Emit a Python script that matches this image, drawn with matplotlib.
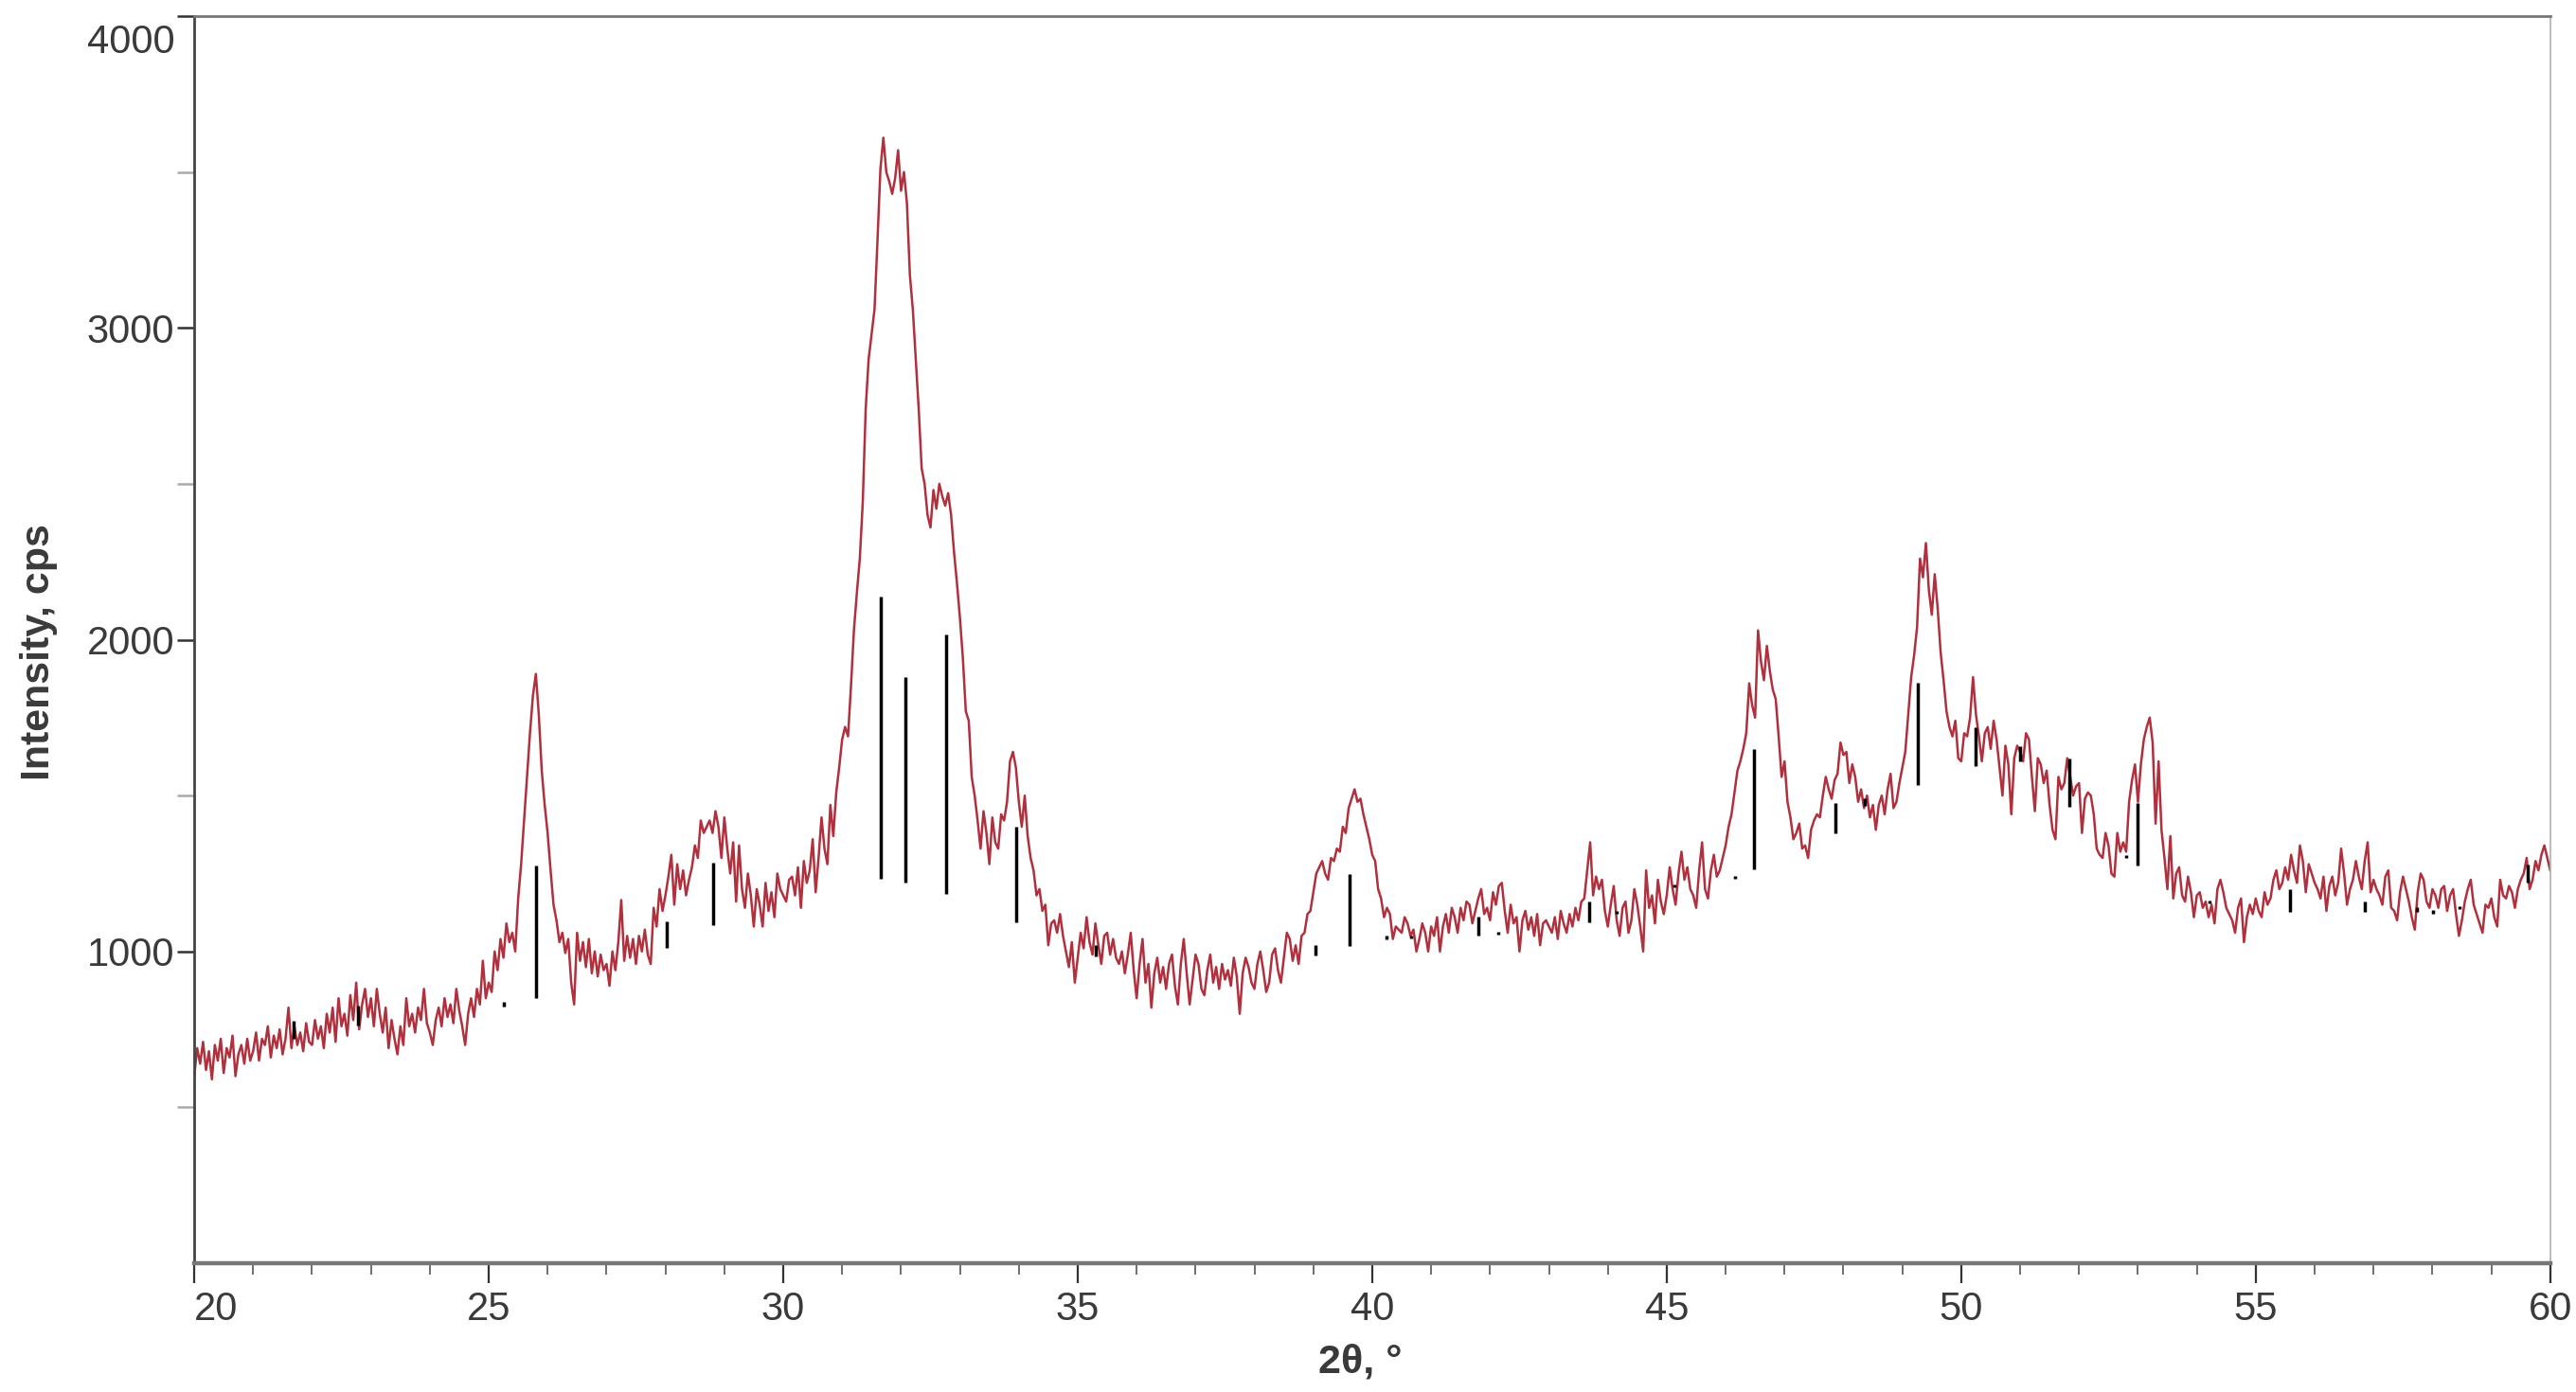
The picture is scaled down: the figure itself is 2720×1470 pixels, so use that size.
import numpy as np
import matplotlib
matplotlib.use("Agg")
import matplotlib.pyplot as plt
from matplotlib.ticker import MultipleLocator, FixedLocator
from matplotlib.transforms import ScaledTranslation

# ---------------- data (2theta step 0.05 deg, 20.00 ... 60.00) ----------------
theta_start = 20.0
theta_step = 0.05

seg_20_25 = [
    600, 690, 640, 710, 620, 680, 590, 700, 650, 720, 610, 690, 660, 730, 600, 670, 700, 640, 720, 650,
    680, 740, 650, 720, 700, 760, 660, 730, 690, 750, 670, 720, 820, 690, 760, 700, 740, 680, 770, 710,
    700, 780, 720, 760, 690, 800, 740, 820, 710, 850, 760, 800, 730, 860, 780, 900, 750, 830, 880, 790,
    850, 760, 880, 800, 740, 820, 690, 780, 720, 670, 760, 700, 850, 760, 800, 740, 820, 780, 880, 770,
    740, 700, 780, 820, 760, 850, 790, 830, 770, 880, 810, 760, 700, 800, 850, 790, 880, 830, 970, 850,
]
seg_25_30 = [
    900, 870, 1000, 940, 1040, 980, 1090, 1030, 1060, 1000, 1170, 1280, 1420, 1560, 1700, 1820, 1890, 1760, 1580, 1470,
    1380, 1260, 1150, 1100, 1030, 1060, 995, 1040, 900, 830, 1060, 970, 1030, 950, 1040, 930, 1000, 920, 990, 940,
    960, 890, 1000, 940, 1030, 1165, 970, 1050, 980, 1040, 960, 1050, 1000, 1070, 990, 960, 1140, 1080, 1200, 1130,
    1180, 1240, 1310, 1150, 1280, 1200, 1260, 1180, 1230, 1270, 1340, 1300, 1420, 1380, 1400, 1420, 1380, 1450, 1400, 1300,
    1430, 1330, 1250, 1350, 1160, 1340, 1200, 1140, 1250, 1180, 1080, 1200, 1150, 1080, 1220, 1130, 1190, 1110, 1250, 1200,
]
seg_30_35 = [
    1180, 1160, 1230, 1240, 1180, 1270, 1140, 1290, 1220, 1260, 1360, 1190, 1300, 1430, 1330, 1280, 1470, 1370, 1510, 1590,
    1680, 1720, 1690, 1850, 2030, 2150, 2260, 2440, 2740, 2900, 2980, 3060, 3280, 3510, 3610, 3500, 3470, 3430, 3480, 3570,
    3440, 3500, 3400, 3170, 3060, 2900, 2740, 2550, 2500, 2400, 2360, 2480, 2420, 2500, 2460, 2430, 2470, 2400, 2280, 2180,
    2070, 1940, 1770, 1740, 1560, 1500, 1420, 1330, 1450, 1380, 1280, 1430, 1350, 1330, 1440, 1420, 1480, 1610, 1640, 1590,
    1480, 1400, 1500, 1370, 1300, 1260, 1180, 1200, 1130, 1150, 1020, 1090, 1100, 1060, 1120, 1050, 1000, 950, 1030, 900,
]
seg_35_40 = [
    980, 1060, 1010, 1110, 1030, 990, 1090, 1020, 960, 1050, 1060, 990, 1040, 980, 960, 1000, 930, 990, 1060, 940,
    850, 960, 1040, 900, 960, 820, 930, 980, 900, 950, 880, 960, 990, 890, 830, 960, 1040, 930, 830, 910,
    990, 960, 880, 860, 940, 990, 900, 950, 880, 960, 910, 940, 890, 980, 920, 800, 930, 980, 950, 900,
    880, 960, 1000, 940, 870, 900, 990, 1010, 940, 900, 980, 1060, 1040, 970, 1020, 960, 1050, 1060, 1120, 1130,
    1190, 1250, 1270, 1290, 1250, 1230, 1300, 1290, 1330, 1320, 1400, 1380, 1460, 1490, 1520, 1480, 1490, 1440, 1400, 1360,
]
seg_40_45 = [
    1310, 1290, 1200, 1170, 1110, 1140, 1120, 1040, 1080, 1070, 1060, 1110, 1090, 1050, 1070, 1000, 1040, 1090, 1060, 1000,
    1080, 1050, 1110, 1000, 1080, 1120, 1060, 1140, 1110, 1060, 1140, 1100, 1160, 1150, 1090, 1130, 1170, 1200, 1120, 1140,
    1100, 1190, 1150, 1210, 1220, 1130, 1060, 1150, 1090, 1110, 1000, 1100, 1130, 1070, 1110, 1050, 1120, 1020, 1090, 1100,
    1080, 1060, 1110, 1040, 1130, 1090, 1060, 1120, 1080, 1140, 1100, 1160, 1170, 1260, 1350, 1180, 1240, 1200, 1230, 1130,
    1080, 1150, 1210, 1100, 1050, 1140, 1160, 1060, 1100, 1200, 1150, 1080, 1000, 1260, 1140, 1180, 1090, 1230, 1160, 1120,
]
seg_45_50 = [
    1180, 1270, 1200, 1150, 1250, 1320, 1230, 1270, 1200, 1180, 1140, 1260, 1350, 1200, 1170, 1260, 1310, 1240, 1260, 1300,
    1340, 1400, 1440, 1510, 1580, 1610, 1650, 1700, 1860, 1790, 1750, 2030, 1930, 1870, 1980, 1900, 1840, 1810, 1690, 1560,
    1610, 1480, 1430, 1360, 1380, 1410, 1330, 1340, 1300, 1390, 1420, 1440, 1430, 1500, 1560, 1520, 1490, 1550, 1570, 1670,
    1630, 1640, 1540, 1600, 1560, 1480, 1520, 1460, 1500, 1430, 1470, 1390, 1470, 1500, 1440, 1520, 1570, 1460, 1480, 1540,
    1590, 1640, 1760, 1880, 1950, 2040, 2260, 2200, 2310, 2160, 2080, 2210, 2100, 1960, 1870, 1770, 1720, 1690, 1740, 1620,
]
seg_50_55 = [
    1610, 1700, 1690, 1750, 1880, 1760, 1690, 1610, 1700, 1720, 1650, 1740, 1680, 1590, 1500, 1660, 1600, 1440, 1620, 1660,
    1640, 1610, 1700, 1680, 1560, 1450, 1620, 1600, 1540, 1580, 1470, 1390, 1360, 1560, 1520, 1540, 1620, 1560, 1500, 1530,
    1540, 1380, 1490, 1510, 1500, 1440, 1330, 1310, 1300, 1380, 1340, 1250, 1240, 1380, 1320, 1350, 1320, 1480, 1550, 1600,
    1480, 1600, 1680, 1720, 1750, 1670, 1410, 1610, 1390, 1300, 1200, 1370, 1170, 1250, 1270, 1180, 1160, 1240, 1190, 1110,
    1180, 1190, 1140, 1160, 1110, 1150, 1090, 1200, 1230, 1190, 1140, 1120, 1100, 1060, 1140, 1170, 1030, 1110, 1150, 1120,
]
seg_55_60 = [
    1170, 1130, 1110, 1190, 1150, 1170, 1230, 1260, 1200, 1220, 1270, 1230, 1310, 1260, 1220, 1340, 1290, 1190, 1280, 1250,
    1220, 1200, 1170, 1240, 1130, 1210, 1240, 1180, 1220, 1330, 1250, 1150, 1200, 1230, 1290, 1240, 1200, 1290, 1350, 1190,
    1230, 1200, 1180, 1150, 1240, 1260, 1140, 1130, 1100, 1190, 1240, 1200, 1160, 1110, 1070, 1190, 1250, 1230, 1160, 1140,
    1200, 1180, 1140, 1200, 1210, 1130, 1180, 1200, 1120, 1050, 1100, 1160, 1200, 1230, 1150, 1120, 1090, 1060, 1150, 1140,
    1170, 1110, 1080, 1230, 1180, 1170, 1210, 1190, 1140, 1200, 1230, 1250, 1300, 1200, 1230, 1290, 1260, 1310, 1340, 1300,
    1260,
]

# reference (stick) pattern: position, lower and upper intensity of each bar
stick_pos = [21.69, 22.78, 25.26, 25.80, 28.02, 28.81, 31.66, 32.08, 32.77, 33.95,
             35.31, 39.03, 39.61, 40.24, 40.66, 41.80, 42.14, 43.68, 44.15, 45.13,
             46.16, 46.48, 47.86, 48.36, 49.27, 50.24, 51.00, 51.83, 52.80, 52.99,
             54.22, 55.58, 56.85, 57.73, 58.01, 58.46, 59.61]
stick_lo = [720, 762, 822, 850, 1013, 1083, 1232, 1221, 1184, 1095,
            985, 986, 1019, 1040, 1042, 1050, 1054, 1095, 1120, 1206,
            1234, 1265, 1378, 1468, 1535, 1596, 1611, 1463, 1300, 1277,
            1153, 1126, 1126, 1126, 1122, 1136, 1220]
stick_hi = [777, 825, 838, 1277, 1098, 1286, 2137, 1879, 2016, 1400,
            1022, 1022, 1247, 1050, 1052, 1113, 1062, 1159, 1130, 1214,
            1242, 1650, 1475, 1492, 1863, 1720, 1657, 1620, 1310, 1475,
            1162, 1201, 1159, 1141, 1132, 1144, 1280]

x_ticks = [20, 25, 30, 35, 40, 45, 50, 55, 60]
y_ticks = [1000, 2000, 3000, 4000]
y_minor = [500, 1500, 2500, 3500]
x_label = "2θ, °"
y_label = "Intensity, cps"

# ---------------- figure ----------------
intensity = np.array(seg_20_25 + seg_25_30 + seg_30_35 + seg_35_40 +
                     seg_40_45 + seg_45_50 + seg_50_55 + seg_55_60, dtype=float)
theta = theta_start + theta_step * np.arange(len(intensity))

plt.rcParams['font.family'] = ['Liberation Sans', 'DejaVu Sans']

fig = plt.figure(figsize=(13.6, 7.35), dpi=200)
ax = fig.add_axes([0.0754, 0.0925, 0.9146, 0.8959])

ax.plot(theta, intensity, color='#b0303d', lw=0.9, zorder=2)
ax.vlines(stick_pos, stick_lo, stick_hi, color='black', lw=1.25, zorder=3)

ax.set_xlim(20, 60)
ax.set_ylim(0, 4000)

ax.xaxis.set_major_locator(FixedLocator(x_ticks))
ax.xaxis.set_minor_locator(MultipleLocator(1))
ax.yaxis.set_major_locator(FixedLocator(y_ticks))
ax.yaxis.set_minor_locator(FixedLocator(y_minor))

txt_col = '#3a3a3a'
ax.tick_params(axis='x', which='major', direction='out', length=7.6, width=0.8,
               color='#333333', labelsize=15, labelcolor=txt_col, pad=3.0)
ax.tick_params(axis='x', which='minor', direction='out', length=4.3, width=0.6,
               color='#555555')
ax.tick_params(axis='y', which='major', direction='out', length=6.5, width=0.9,
               color='#333333', labelsize=15, labelcolor=txt_col, pad=1)
ax.tick_params(axis='y', which='minor', direction='out', length=6.5, width=0.9,
               color='#aaaaaa')

ax.spines['left'].set_color('#444444')
ax.spines['left'].set_linewidth(1.0)
ax.spines['top'].set_color('#777777')
ax.spines['top'].set_linewidth(1.0)
ax.spines['bottom'].set_color('#777777')
ax.spines['bottom'].set_linewidth(1.6)
ax.spines['right'].set_color('#b0b0b0')
ax.spines['right'].set_linewidth(0.6)

fig.canvas.draw()
for lab in ax.get_yticklabels():
    if lab.get_text() == '4000':
        lab.set_va('top')
        lab.set_transform(lab.get_transform() +
                          ScaledTranslation(0, -3 / 72, fig.dpi_scale_trans))
for lab in ax.get_xticklabels():
    if lab.get_text() == '20':
        lab.set_ha('left')

ax.set_xlabel(x_label, fontsize=15.5, fontweight='bold', color=txt_col)
ax.set_ylabel(y_label, fontsize=15.5, fontweight='bold', color=txt_col)
ax.xaxis.set_label_coords(0.495, -0.064)
ax.yaxis.set_label_coords(-0.058, 0.49)

fig.savefig('out.png', dpi=200, facecolor='white')
